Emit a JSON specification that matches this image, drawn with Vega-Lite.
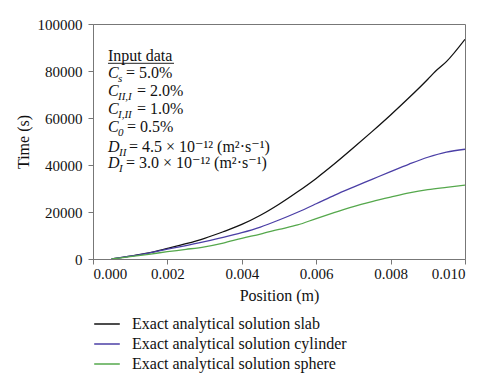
{
  "$schema": "https://vega.github.io/schema/vega-lite/v6.json",
  "width": 372,
  "height": 235,
  "autosize": "none",
  "padding": {"left": 93, "top": 24, "right": 35, "bottom": 129},
  "background": "white",
  "config": {
    "font": "Liberation Serif, DejaVu Serif, serif",
    "view": {"stroke": "#777777", "strokeWidth": 1},
    "axis": {
      "domainColor": "#777777",
      "tickColor": "#777777",
      "tickSize": 5,
      "grid": false,
      "labelFont": "Liberation Serif, DejaVu Serif, serif",
      "labelFontSize": 15,
      "labelColor": "#111111",
      "titleFont": "Liberation Serif, DejaVu Serif, serif",
      "titleFontSize": 16,
      "titleFontWeight": "normal",
      "titleColor": "#111111"
    }
  },
  "datasets": {
    "curves": [
      {"x": 0.0005, "t": 0, "series": "Exact analytical solution slab"},
      {"x": 0.001, "t": 1200, "series": "Exact analytical solution slab"},
      {"x": 0.0015, "t": 2600, "series": "Exact analytical solution slab"},
      {"x": 0.002, "t": 4500, "series": "Exact analytical solution slab"},
      {"x": 0.0025, "t": 6500, "series": "Exact analytical solution slab"},
      {"x": 0.003, "t": 8800, "series": "Exact analytical solution slab"},
      {"x": 0.0035, "t": 11600, "series": "Exact analytical solution slab"},
      {"x": 0.004, "t": 14700, "series": "Exact analytical solution slab"},
      {"x": 0.0045, "t": 18600, "series": "Exact analytical solution slab"},
      {"x": 0.005, "t": 23300, "series": "Exact analytical solution slab"},
      {"x": 0.0055, "t": 28600, "series": "Exact analytical solution slab"},
      {"x": 0.006, "t": 34300, "series": "Exact analytical solution slab"},
      {"x": 0.0065, "t": 40600, "series": "Exact analytical solution slab"},
      {"x": 0.007, "t": 47300, "series": "Exact analytical solution slab"},
      {"x": 0.0075, "t": 54200, "series": "Exact analytical solution slab"},
      {"x": 0.008, "t": 61300, "series": "Exact analytical solution slab"},
      {"x": 0.0085, "t": 68700, "series": "Exact analytical solution slab"},
      {"x": 0.009, "t": 76500, "series": "Exact analytical solution slab"},
      {"x": 0.0092, "t": 79800, "series": "Exact analytical solution slab"},
      {"x": 0.0095, "t": 84000, "series": "Exact analytical solution slab"},
      {"x": 0.01, "t": 93500, "series": "Exact analytical solution slab"},
      {"x": 0.0005, "t": 0, "series": "Exact analytical solution cylinder"},
      {"x": 0.001, "t": 1200, "series": "Exact analytical solution cylinder"},
      {"x": 0.0015, "t": 2500, "series": "Exact analytical solution cylinder"},
      {"x": 0.002, "t": 4200, "series": "Exact analytical solution cylinder"},
      {"x": 0.0025, "t": 5700, "series": "Exact analytical solution cylinder"},
      {"x": 0.003, "t": 7400, "series": "Exact analytical solution cylinder"},
      {"x": 0.0035, "t": 9200, "series": "Exact analytical solution cylinder"},
      {"x": 0.004, "t": 11200, "series": "Exact analytical solution cylinder"},
      {"x": 0.0045, "t": 13600, "series": "Exact analytical solution cylinder"},
      {"x": 0.005, "t": 16600, "series": "Exact analytical solution cylinder"},
      {"x": 0.0055, "t": 19900, "series": "Exact analytical solution cylinder"},
      {"x": 0.006, "t": 23500, "series": "Exact analytical solution cylinder"},
      {"x": 0.0065, "t": 27200, "series": "Exact analytical solution cylinder"},
      {"x": 0.007, "t": 30600, "series": "Exact analytical solution cylinder"},
      {"x": 0.0075, "t": 33900, "series": "Exact analytical solution cylinder"},
      {"x": 0.008, "t": 37200, "series": "Exact analytical solution cylinder"},
      {"x": 0.0085, "t": 40400, "series": "Exact analytical solution cylinder"},
      {"x": 0.009, "t": 43300, "series": "Exact analytical solution cylinder"},
      {"x": 0.0095, "t": 45500, "series": "Exact analytical solution cylinder"},
      {"x": 0.01, "t": 46700, "series": "Exact analytical solution cylinder"},
      {"x": 0.0005, "t": 0, "series": "Exact analytical solution sphere"},
      {"x": 0.001, "t": 1000, "series": "Exact analytical solution sphere"},
      {"x": 0.0015, "t": 2000, "series": "Exact analytical solution sphere"},
      {"x": 0.002, "t": 3100, "series": "Exact analytical solution sphere"},
      {"x": 0.0025, "t": 4100, "series": "Exact analytical solution sphere"},
      {"x": 0.003, "t": 5200, "series": "Exact analytical solution sphere"},
      {"x": 0.0035, "t": 6800, "series": "Exact analytical solution sphere"},
      {"x": 0.004, "t": 8800, "series": "Exact analytical solution sphere"},
      {"x": 0.0045, "t": 10600, "series": "Exact analytical solution sphere"},
      {"x": 0.005, "t": 12600, "series": "Exact analytical solution sphere"},
      {"x": 0.0055, "t": 14500, "series": "Exact analytical solution sphere"},
      {"x": 0.006, "t": 17200, "series": "Exact analytical solution sphere"},
      {"x": 0.0065, "t": 19800, "series": "Exact analytical solution sphere"},
      {"x": 0.007, "t": 22300, "series": "Exact analytical solution sphere"},
      {"x": 0.0075, "t": 24400, "series": "Exact analytical solution sphere"},
      {"x": 0.008, "t": 26300, "series": "Exact analytical solution sphere"},
      {"x": 0.0085, "t": 28100, "series": "Exact analytical solution sphere"},
      {"x": 0.009, "t": 29500, "series": "Exact analytical solution sphere"},
      {"x": 0.0095, "t": 30500, "series": "Exact analytical solution sphere"},
      {"x": 0.01, "t": 31400, "series": "Exact analytical solution sphere"}
    ],
    "notes": [
      {"x": 0.000403, "y": 84255, "text": "Input data", "part": "rest"},
      {"x": 0.000403, "y": 77234, "text": "C", "part": "main"},
      {"x": 0.000672, "y": 77234, "text": "s", "part": "sub"},
      {"x": 0.000887, "y": 77234, "text": "= 5.0%", "part": "rest"},
      {"x": 0.000403, "y": 69362, "text": "C", "part": "main"},
      {"x": 0.000672, "y": 69362, "text": "II,I", "part": "sub"},
      {"x": 0.001183, "y": 69362, "text": "= 2.0%", "part": "rest"},
      {"x": 0.000403, "y": 61702, "text": "C", "part": "main"},
      {"x": 0.000672, "y": 61702, "text": "I,II", "part": "sub"},
      {"x": 0.001183, "y": 61702, "text": "= 1.0%", "part": "rest"},
      {"x": 0.000403, "y": 54043, "text": "C", "part": "main"},
      {"x": 0.000672, "y": 54043, "text": "0", "part": "sub"},
      {"x": 0.000914, "y": 54043, "text": "= 0.5%", "part": "rest"},
      {"x": 0.000403, "y": 45532, "text": "D", "part": "main"},
      {"x": 0.000699, "y": 45532, "text": "II", "part": "sub"},
      {"x": 0.000968, "y": 45532, "text": "= 4.5 × 10⁻¹² (m²·s⁻¹)", "part": "rest"},
      {"x": 0.000403, "y": 38511, "text": "D", "part": "main"},
      {"x": 0.000699, "y": 38511, "text": "I", "part": "sub"},
      {"x": 0.000887, "y": 38511, "text": "= 3.0 × 10⁻¹² (m²·s⁻¹)", "part": "rest"}
    ],
    "underline": [
      {"x": 0.000403, "x2": 0.002177, "y": 83277}
    ]
  },
  "layer": [
    {
      "data": {"name": "curves"},
      "mark": {"type": "line", "strokeWidth": 1.3, "clip": true, "interpolate": "monotone"},
      "encoding": {
        "x": {
          "field": "x", "type": "quantitative",
          "scale": {"domain": [0, 0.01], "nice": false},
          "axis": {"values": [0, 0.002, 0.004, 0.006, 0.008, 0.01], "format": ".3f", "title": "Position (m)", "labelPadding": 2, "titlePadding": 6}
        },
        "y": {
          "field": "t", "type": "quantitative",
          "scale": {"domain": [0, 100000], "nice": false},
          "axis": {"values": [0, 20000, 40000, 60000, 80000, 100000], "format": "d", "title": "Time (s)", "labelPadding": 6, "titlePadding": 6}
        },
        "color": {
          "field": "series", "type": "nominal",
          "scale": {
            "domain": ["Exact analytical solution slab", "Exact analytical solution cylinder", "Exact analytical solution sphere"],
            "range": ["#111111", "#4b3fa6", "#55a84c"]
          },
          "legend": {
            "title": null,
            "orient": "none",
            "legendX": 5,
            "legendY": 291,
            "symbolType": "M-1.6,0H1.6",
            "symbolSize": 256,
            "symbolStrokeWidth": 1.5,
            "labelFont": "Liberation Serif, DejaVu Serif, serif",
            "labelFontSize": 16,
            "labelColor": "#111111",
            "labelOffset": 16,
            "rowPadding": 3,
            "labelLimit": 400
          }
        }
      }
    },
    {
      "data": {"name": "underline"},
      "mark": {"type": "rule", "color": "#222222", "strokeWidth": 1},
      "encoding": {
        "x": {"field": "x", "type": "quantitative"},
        "x2": {"field": "x2"},
        "y": {"field": "y", "type": "quantitative"}
      }
    },
    {
      "data": {"name": "notes"},
      "transform": [{"filter": "datum.part === 'main'"}],
      "mark": {"type": "text", "align": "left", "baseline": "alphabetic", "font": "Liberation Serif, DejaVu Serif, serif", "fontSize": 16, "fontStyle": "italic", "color": "#111111"},
      "encoding": {
        "x": {"field": "x", "type": "quantitative"},
        "y": {"field": "y", "type": "quantitative"},
        "text": {"field": "text"}
      }
    },
    {
      "data": {"name": "notes"},
      "transform": [{"filter": "datum.part === 'sub'"}],
      "mark": {"type": "text", "align": "left", "baseline": "alphabetic", "font": "Liberation Serif, DejaVu Serif, serif", "fontSize": 11, "fontStyle": "italic", "dy": 4, "color": "#111111"},
      "encoding": {
        "x": {"field": "x", "type": "quantitative"},
        "y": {"field": "y", "type": "quantitative"},
        "text": {"field": "text"}
      }
    },
    {
      "data": {"name": "notes"},
      "transform": [{"filter": "datum.part === 'rest'"}],
      "mark": {"type": "text", "align": "left", "baseline": "alphabetic", "font": "Liberation Serif, DejaVu Serif, serif", "fontSize": 16, "color": "#111111"},
      "encoding": {
        "x": {"field": "x", "type": "quantitative"},
        "y": {"field": "y", "type": "quantitative"},
        "text": {"field": "text"}
      }
    }
  ]
}
